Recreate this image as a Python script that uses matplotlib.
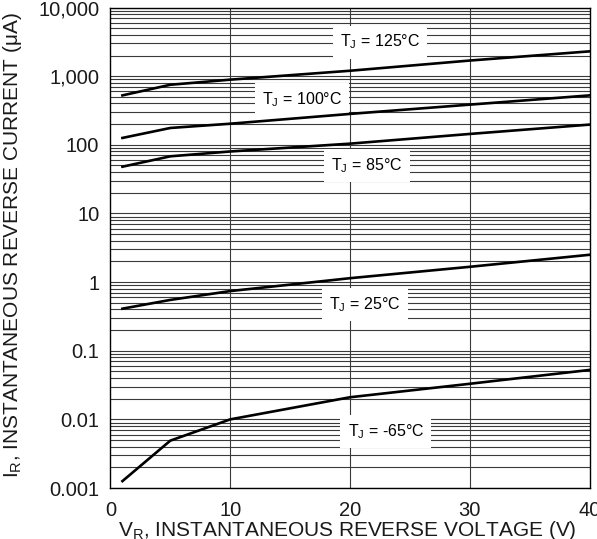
import matplotlib
matplotlib.use("Agg")
import matplotlib.pyplot as plt
from matplotlib.ticker import FixedLocator, NullFormatter

plt.rcParams['font.family'] = ['Liberation Sans', 'DejaVu Sans']
plt.rcParams['mathtext.default'] = 'regular'

# Reverse voltage (V) and reverse current (uA) per junction temperature
voltage = [1, 5, 10, 20, 30, 40]
ir_125 = [525, 750, 890, 1200, 1690, 2300]
ir_100 = [126, 176, 203, 282, 385, 525]
ir_85 = [48, 68, 80, 104, 144, 197]
ir_25 = [0.41, 0.55, 0.74, 1.14, 1.67, 2.5]
ir_m65 = [0.00126, 0.0049, 0.0100, 0.021, 0.033, 0.0525]

x_ticks = [0, 10, 20, 30, 40]
y_ticks = [0.001, 0.01, 0.1, 1, 10, 100, 1000, 10000]
y_tick_labels = ["0.001", "0.01", "0.1", "1", "10", "100", "1,000", "10,000"]

curve_labels = ["T$_J$ = 125°C", "T$_J$ = 100°C", "T$_J$ = 85°C",
                "T$_J$ = 25°C", "T$_J$ = -65°C"]
label_pos = [(22.5, 3140), (16.0, 455), (21.4, 49.7), (21.25, 0.467), (23.0, 0.0067)]

fig = plt.figure(figsize=(5.97, 5.39), dpi=100)
ax = fig.add_axes([0.185, 0.0946, 0.8025, 0.8914])

ax.set_xlim(0, 40)
ax.set_ylim(0.001, 10000)
ax.set_yscale('log')

# grid: minor and major decades, vertical at every 10 V
minor = [m * 10.0 ** e for e in range(-3, 4) for m in range(2, 10)]
for yv in minor + y_ticks:
    ax.axhline(yv, color='#3a3a3a', lw=0.8, zorder=1)
for xv in x_ticks[1:-1]:
    ax.axvline(xv, color='#3a3a3a', lw=0.8, zorder=1)

for series in (ir_125, ir_100, ir_85, ir_25, ir_m65):
    ax.plot(voltage, series, color='black', lw=1.9, zorder=4,
            solid_joinstyle='round')

for text, (xp, yp) in zip(curve_labels, label_pos):
    ax.text(xp, yp, text, fontsize=11.5, ha='center', va='center', zorder=3,
            bbox=dict(boxstyle='square,pad=0.45', fc='white', ec='none'))

ax.xaxis.set_major_locator(FixedLocator(x_ticks))
ax.set_xticklabels([str(v) for v in x_ticks])
ax.yaxis.set_major_locator(FixedLocator(y_ticks))
ax.yaxis.set_minor_locator(FixedLocator([]))
ax.yaxis.set_minor_formatter(NullFormatter())
ax.set_yticklabels(y_tick_labels)
ax.tick_params(axis='both', length=0, labelsize=14.5, colors='#1a1a1a')
ax.tick_params(axis='y', pad=8)
ax.tick_params(axis='x', pad=9)

for sp in ax.spines.values():
    sp.set_color('black')
    sp.set_linewidth(1.0)

ax.set_xlabel("V$_R$, INSTANTANEOUS REVERSE VOLTAGE (V)", fontsize=15,
              color='#1a1a1a')
ax.xaxis.set_label_coords(0.494, -0.064)
ax.set_ylabel("I$_R$, INSTANTANEOUS REVERSE CURRENT (μA)", fontsize=15,
              color='#1a1a1a', va='center')
ax.yaxis.set_label_coords(-0.205, 0.505)

fig.savefig("out.png", dpi=100)
